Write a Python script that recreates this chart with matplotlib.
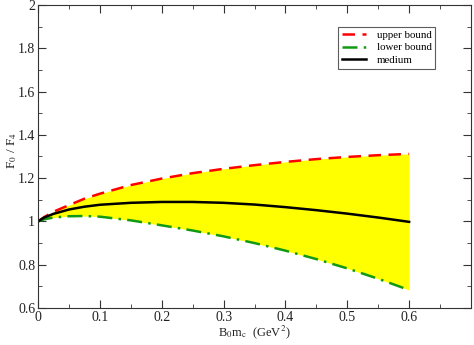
import matplotlib
matplotlib.use("Agg")
import matplotlib.pyplot as plt
from matplotlib.ticker import MultipleLocator

plt.rcParams["font.family"] = ["Liberation Serif", "DejaVu Serif"]
plt.rcParams["mathtext.fontset"] = "stix"

x = [0.0, 0.01, 0.025, 0.05, 0.075, 0.1, 0.15, 0.2, 0.25, 0.3, 0.35, 0.4, 0.45, 0.5, 0.55, 0.6]
upper = [1.0, 1.02, 1.045, 1.075, 1.105, 1.128, 1.168, 1.198, 1.223, 1.243, 1.26, 1.275, 1.288, 1.298, 1.306, 1.312]
medium = [1.0, 1.018, 1.035, 1.055, 1.068, 1.077, 1.086, 1.09, 1.09, 1.086, 1.078, 1.066, 1.052, 1.036, 1.018, 0.998]
lower = [1.0, 1.01, 1.018, 1.024, 1.025, 1.022, 1.005, 0.982, 0.958, 0.931, 0.9, 0.865, 0.826, 0.783, 0.735, 0.683]

fig = plt.figure(figsize=(4.74, 3.45), dpi=100)
ax = fig.add_axes([38 / 474, 37 / 345, 433 / 474, 303 / 345])

ax.fill_between(x, lower, upper, color="yellow", linewidth=0)
ax.plot(x, upper, color="red", linestyle=(0, (5, 3)), linewidth=1.8, label="upper bound")
ax.plot(x, lower, color="#119911", linestyle=(0, (6, 2.5, 1, 2.5)), linewidth=1.8, label="lower bound")
ax.plot(x, medium, color="black", linewidth=1.8, label="medium")

ax.set_xlim(0, 0.7)
ax.set_ylim(0.6, 2.0)
ax.xaxis.set_minor_locator(MultipleLocator(0.05))
ax.yaxis.set_minor_locator(MultipleLocator(0.1))
ax.set_xticks([0, 0.1, 0.2, 0.3, 0.4, 0.5, 0.6])
ax.set_xticklabels(["0", "0.1", "0.2", "0.3", "0.4", "0.5", "0.6"])
ax.set_yticks([0.6, 0.8, 1.0, 1.2, 1.4, 1.6, 1.8, 2.0])
ax.set_yticklabels(["0.6", "0.8", "1", "1.2", "1.4", "1.6", "1.8", "2"])
ax.tick_params(which="both", direction="in", top=True, right=True, labelsize=10,
               color="#333333", labelcolor="#222222")
ax.tick_params(which="major", length=6, pad=2)
ax.tick_params(which="minor", length=3)
for spine in ax.spines.values():
    spine.set_color("#333333")

ax.set_xlabel(r"B$_0$m$_\mathrm{c}$  (GeV$^2$)", fontsize=9, labelpad=0, color="#222222")
ax.set_ylabel(r"F$_0$ / F$_4$", fontsize=9.5, color="#222222")
ax.yaxis.set_label_coords(-0.045, 0.52)

leg = ax.legend(loc="upper right", bbox_to_anchor=(0.918, 0.928), fontsize=7.8, frameon=True,
                fancybox=False, edgecolor="#333333", handlelength=2.2, labelspacing=0.25,
                borderpad=0.35, handletextpad=1.0, borderaxespad=0)
leg.get_frame().set_linewidth(0.8)

fig.savefig("out.png", dpi=100)
